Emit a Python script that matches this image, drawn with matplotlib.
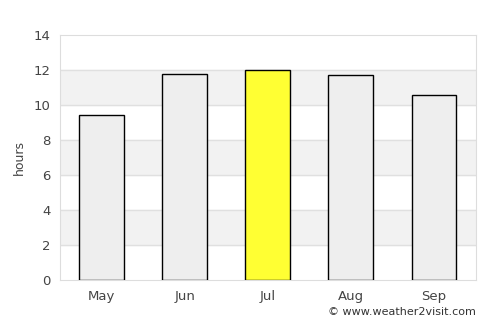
import matplotlib
matplotlib.use('Agg')
import matplotlib.pyplot as plt

months = ['May', 'Jun', 'Jul', 'Aug', 'Sep']
hours = [9.41, 11.81, 12.04, 11.75, 10.61]
colors = ['#eeeeee', '#eeeeee', '#ffff33', '#eeeeee', '#eeeeee']
yticks = [0, 2, 4, 6, 8, 10, 12, 14]

fig = plt.figure(figsize=(5, 3.25), dpi=100)
ax = fig.add_axes([0.12, 0.1385, 0.831, 0.753])

# alternating background bands
for lo in [2, 6, 10]:
    ax.axhspan(lo, lo + 2, color='#f2f2f2', zorder=0)
for y in yticks[1:-1]:
    ax.axhline(y, color='#e0e0e0', linewidth=1, zorder=1)

ax.bar(range(len(months)), hours, width=0.54, color=colors,
       edgecolor='black', linewidth=1, zorder=3)

ax.set_xlim(-0.5, len(months) - 0.5)
ax.set_ylim(0, 14)
ax.set_yticks(yticks)
ax.set_xticks(range(len(months)))
ax.set_xticklabels(months)
ax.tick_params(length=0, labelsize=9.5, colors='#444444', pad=7)
ax.tick_params(axis='y', pad=7)
for s in ax.spines.values():
    s.set_color('#dddddd')
ax.set_ylabel('hours', fontsize=9, color='#444444', labelpad=5)

fig.text(0.951, 0.025, '© www.weather2visit.com', ha='right', va='bottom',
         fontsize=8, color='#333333')

fig.savefig('out.png', dpi=100)
